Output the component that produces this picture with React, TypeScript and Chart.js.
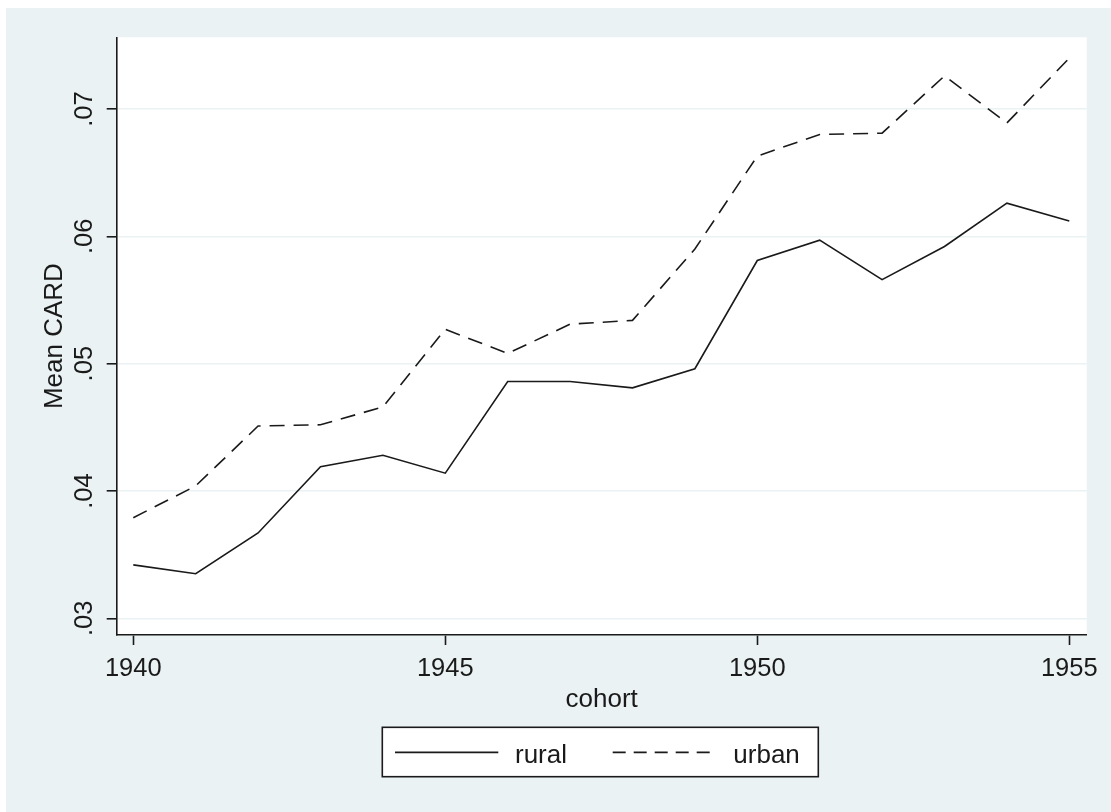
import React, { useEffect, useRef } from 'react';
import { Chart, registerables } from 'chart.js';

Chart.register(...registerables);

// ---- data ----
const cohorts = [1940, 1941, 1942, 1943, 1944, 1945, 1946, 1947, 1948, 1949, 1950, 1951, 1952, 1953, 1954, 1955];
const rural = [0.0342, 0.0335, 0.0367, 0.0419, 0.0428, 0.0414, 0.0486, 0.0486, 0.0481, 0.0496, 0.0581, 0.0597, 0.0566, 0.0592, 0.0626, 0.0612];
const urban = [0.0379, 0.0404, 0.0451, 0.0452, 0.0466, 0.0527, 0.0508, 0.0531, 0.0534, 0.0590, 0.0663, 0.0680, 0.0681, 0.0726, 0.0689, 0.0740];
const seriesNames = ['rural', 'urban'];
const xTicks = [1940, 1945, 1950, 1955];
const yTicks = [0.03, 0.04, 0.05, 0.06, 0.07];
const xTitle = 'cohort';
const yTitle = 'Mean CARD';

const X_MIN = 1939.734;
const X_MAX = 1955.279;
const Y_MIN = 0.02869;
const Y_MAX = 0.07563;

const BG = '#EAF2F3';
const INK = '#1a1a1a';
const FONT = '"Liberation Sans", Arial, Helvetica, sans-serif';
const URBAN_DASH = [15, 9];

const fmtY = (v: number) => v.toFixed(2).replace(/^0/, '');

const stataPlugin = {
  id: 'stataDecor',
  beforeDraw(chart: any) {
    const { ctx, chartArea: a } = chart;
    ctx.save();
    ctx.fillStyle = '#ffffff';
    ctx.fillRect(a.left, a.top, a.right - a.left, a.bottom - a.top);
    ctx.restore();
  },
  afterDraw(chart: any) {
    const { ctx, chartArea: a } = chart;
    const xs = chart.scales.x;
    const ys = chart.scales.y;
    const cx = (a.left + a.right) / 2;
    const cy = (a.top + a.bottom) / 2;
    ctx.save();
    ctx.fillStyle = INK;
    ctx.textBaseline = 'alphabetic';

    // x tick labels
    ctx.font = `25.5px ${FONT}`;
    ctx.textAlign = 'center';
    xTicks.forEach((v) => {
      ctx.fillText(String(v), xs.getPixelForValue(v), a.bottom + 41);
    });

    // y tick labels (rotated)
    yTicks.forEach((v) => {
      const y = ys.getPixelForValue(v);
      ctx.save();
      ctx.translate(a.left - 25.2, y);
      ctx.rotate(-Math.PI / 2);
      ctx.textAlign = 'center';
      ctx.fillText(fmtY(v), 0, 0);
      ctx.restore();
    });

    // axis titles
    ctx.font = `26px ${FONT}`;
    ctx.textAlign = 'center';
    ctx.fillText(xTitle, cx, a.bottom + 71.7);
    ctx.save();
    ctx.translate(a.left - 55.2, cy);
    ctx.rotate(-Math.PI / 2);
    ctx.fillText(yTitle, 0, 0);
    ctx.restore();

    // legend
    const bx = cx - 219.4;
    const by = a.bottom + 92.3;
    const bw = 436;
    const bh = 49.4;
    ctx.fillStyle = '#ffffff';
    ctx.fillRect(bx, by, bw, bh);
    ctx.strokeStyle = INK;
    ctx.lineWidth = 1.6;
    ctx.strokeRect(bx, by, bw, bh);

    const ly = a.bottom + 117.3;
    const ty = a.bottom + 128.3;
    ctx.lineWidth = 1.8;
    ctx.beginPath();
    ctx.setLineDash([]);
    ctx.moveTo(cx - 206.7, ly);
    ctx.lineTo(cx - 103.4, ly);
    ctx.stroke();
    ctx.beginPath();
    ctx.setLineDash([13, 8]);
    ctx.moveTo(cx + 11, ly);
    ctx.lineTo(cx + 115, ly);
    ctx.stroke();
    ctx.setLineDash([]);

    ctx.fillStyle = INK;
    ctx.textAlign = 'left';
    ctx.font = `26px ${FONT}`;
    ctx.fillText(seriesNames[0], cx - 86.7, ty);
    ctx.fillText(seriesNames[1], cx + 131.6, ty);
    ctx.restore();
  },
};

export default function App() {
  const canvasRef = useRef<HTMLCanvasElement | null>(null);

  useEffect(() => {
    document.body.style.margin = '0';
    document.body.style.overflow = 'hidden';
    const canvas = canvasRef.current;
    if (!canvas) return;
    const chart = new Chart(canvas, {
      type: 'line',
      data: {
        datasets: [
          {
            label: seriesNames[0],
            data: cohorts.map((c, i) => ({ x: c, y: rural[i] })),
            borderColor: INK,
            borderWidth: 1.6,
            pointRadius: 0,
            fill: false,
            tension: 0,
          },
          {
            label: seriesNames[1],
            data: cohorts.map((c, i) => ({ x: c, y: urban[i] })),
            borderColor: INK,
            borderWidth: 1.6,
            borderDash: URBAN_DASH,
            pointRadius: 0,
            fill: false,
            tension: 0,
          },
        ],
      },
      options: {
        animation: false,
        responsive: false,
        maintainAspectRatio: false,
        devicePixelRatio: 1,
        layout: { padding: { left: 0, top: 29.3, right: 24.3, bottom: 0 } },
        plugins: {
          legend: { display: false },
          tooltip: { enabled: false },
          title: { display: false },
        },
        scales: {
          x: {
            type: 'linear',
            min: X_MIN,
            max: X_MAX,
            afterBuildTicks: (s: any) => {
              s.ticks = xTicks.map((v) => ({ value: v }));
            },
            afterFit: (s: any) => {
              s.height = 177;
            },
            ticks: { display: false },
            grid: {
              display: true,
              drawOnChartArea: false,
              drawTicks: true,
              tickLength: 10,
              tickWidth: 1.6,
              tickColor: INK,
              color: INK,
            },
            border: { display: true, color: INK, width: 1.6 },
          },
          y: {
            type: 'linear',
            min: Y_MIN,
            max: Y_MAX,
            afterBuildTicks: (s: any) => {
              s.ticks = yTicks.map((v) => ({ value: v }));
            },
            afterFit: (s: any) => {
              s.width = 110.7;
            },
            ticks: { display: false },
            grid: {
              display: true,
              drawOnChartArea: true,
              drawTicks: true,
              tickLength: 10,
              tickWidth: 1.6,
              tickColor: INK,
              color: BG,
              lineWidth: 1.6,
            },
            border: { display: true, color: INK, width: 1.6 },
          },
        },
      },
      plugins: [stataPlugin],
    } as any);
    return () => {
      chart.destroy();
    };
  }, []);

  return (
    <div
      style={{
        position: 'absolute',
        left: 6,
        top: 8,
        width: 1105,
        height: 804,
        background: BG,
      }}
    >
      <canvas ref={canvasRef} width={1105} height={804} style={{ display: 'block', width: 1105, height: 804 }} />
    </div>
  );
}
